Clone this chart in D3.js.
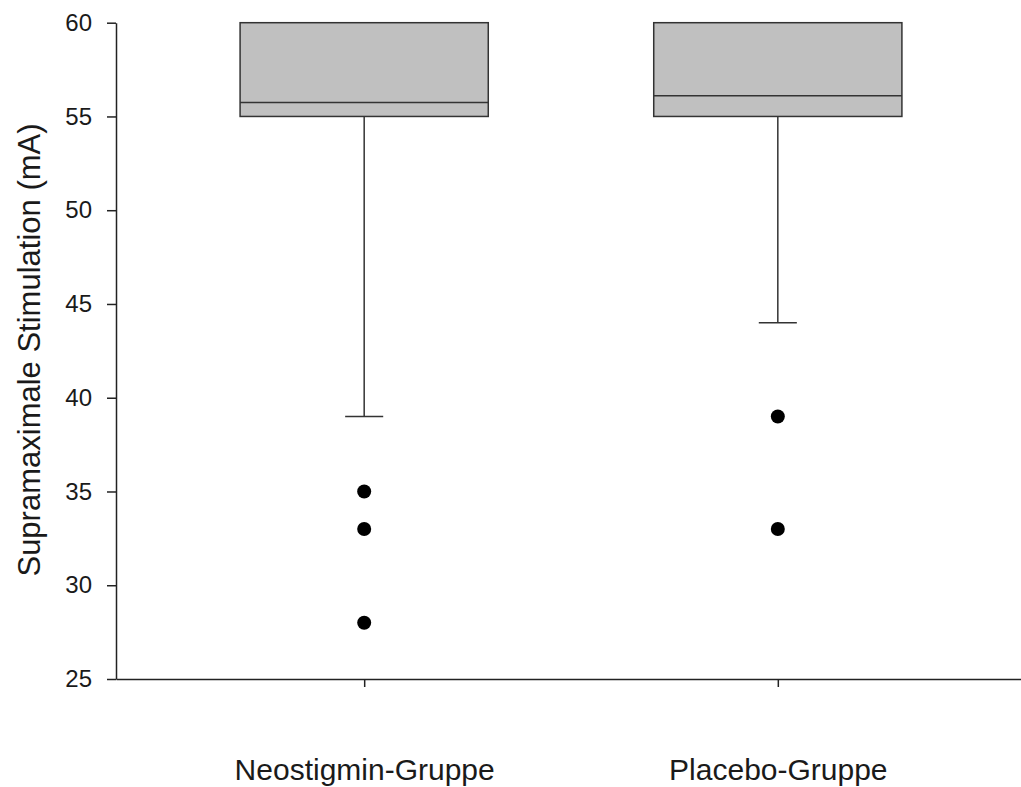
<!DOCTYPE html>
<html>
<head>
<meta charset="utf-8">
<script src="https://cdn.jsdelivr.net/npm/d3@7"></script>
<style>
  body { margin: 0; background: #fff; }
  text { font-family: Arial, "Liberation Sans", sans-serif; fill: #1a1a1a; }
</style>
</head>
<body>
<div id="chart"></div>
<script>

var groups = ["Neostigmin-Gruppe", "Placebo-Gruppe"]
var lowerQuartile = [55, 55]
var medians = [55.75, 56.1]
var upperQuartile = [60, 60]
var whiskerLow = [39, 44]
var outliers = [[35, 33, 28], [39, 33]]
var yTicks = [25, 30, 35, 40, 45, 50, 55, 60]

var svg = d3.select("#chart")
            .append("svg")
            .attr("width", 1021)
            .attr("height", 787)

var x = d3.scalePoint()
    .domain(groups)
    .range([116, 1026])
    .padding(0.6)

var y = d3.scaleLinear()
    .domain([25, 60])
    .range([679, 22.7])

var step = x.step()
var boxW = step * 0.6
var capW = step * 0.092

// y axis
var yAxis = svg.append("g")
    .attr("transform", "translate(116,0)")
    .call(d3.axisLeft(y).tickValues(yTicks).tickSize(9).tickSizeOuter(0).tickPadding(15))
yAxis.selectAll("text").style("font-size", "24px")
yAxis.selectAll("line, path").style("stroke", "#222").style("stroke-width", 1.5)

// x axis
var xAxis = svg.append("g")
    .attr("transform", "translate(0,679)")
    .call(d3.axisBottom(x).tickSize(8).tickSizeOuter(0).tickPadding(72))
xAxis.selectAll("text").style("font-size", "30px")
xAxis.selectAll("line, path").style("stroke", "#222").style("stroke-width", 1.5)

// y title
svg.append("text")
    .attr("transform", "translate(40,350) rotate(-90)")
    .attr("text-anchor", "middle")
    .style("font-size", "31px")
    .text("Supramaximale Stimulation (mA)")

var boxes = svg.append("g")
    .selectAll("g")
    .data(groups)
    .enter()
    .append("g")

// whiskers
boxes.append("line")
    .attr("x1", function(d) { return x(d) })
    .attr("x2", function(d) { return x(d) })
    .attr("y1", function(d, i) { return y(lowerQuartile[i]) })
    .attr("y2", function(d, i) { return y(whiskerLow[i]) })
    .style("stroke", "#333")
    .style("stroke-width", 1.5)

boxes.append("line")
    .attr("x1", function(d) { return x(d) - capW / 2 })
    .attr("x2", function(d) { return x(d) + capW / 2 })
    .attr("y1", function(d, i) { return y(whiskerLow[i]) })
    .attr("y2", function(d, i) { return y(whiskerLow[i]) })
    .style("stroke", "#333")
    .style("stroke-width", 1.5)

boxes.append("rect")
    .attr("x", function(d) { return x(d) - boxW / 2 })
    .attr("width", boxW)
    .attr("y", function(d, i) { return y(upperQuartile[i]) })
    .attr("height", function(d, i) { return y(lowerQuartile[i]) - y(upperQuartile[i]) })
    .style("fill", "#c0c0c0")
    .style("stroke", "#333")
    .style("stroke-width", 1.5)

boxes.append("line")
    .attr("x1", function(d) { return x(d) - boxW / 2 })
    .attr("x2", function(d) { return x(d) + boxW / 2 })
    .attr("y1", function(d, i) { return y(medians[i]) })
    .attr("y2", function(d, i) { return y(medians[i]) })
    .style("stroke", "#333")
    .style("stroke-width", 1.5)

// outliers
boxes.selectAll("circle")
    .data(function(d, i) { return outliers[i].map(function(v) { return {g: d, v: v} }) })
    .enter()
    .append("circle")
    .attr("cx", function(d) { return x(d.g) })
    .attr("cy", function(d) { return y(d.v) })
    .attr("r", 7)
    .style("fill", "#000")

</script>
</body>
</html>
